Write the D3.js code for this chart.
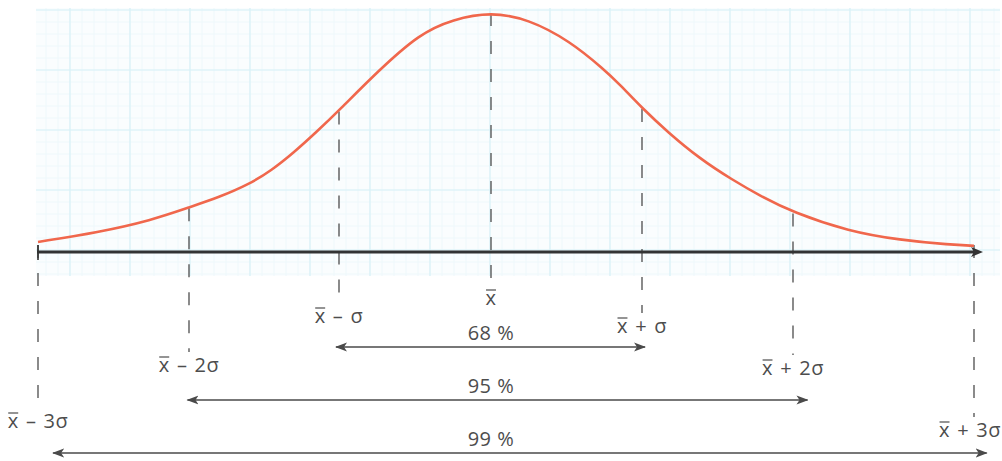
<!DOCTYPE html>
<html>
<head>
<meta charset="utf-8">
<script src="https://cdn.jsdelivr.net/npm/d3@7"></script>
<style>
  html, body { margin: 0; padding: 0; background: #fff; }
  svg text { font-family: "Open Sans", "Noto Sans", sans-serif; fill: #4d4d4d; }
</style>
</head>
<body>
<svg id="chart" width="1002" height="461"></svg>
<script>
// sigma steps marked on the axis
const sigmaSteps = [-3, -2, -1, 0, 1, 2, 3];

// curve: position in sigma units, height in % of the peak
const curveT = [-3, -2.6, -2.25, -2, -1.8, -1.6, -1.45, -1.3, -1.15, -1, -0.75, -0.47, -0.25, 0,
  0.25, 0.52, 0.75, 0.85, 1, 1.17, 1.38, 1.6, 1.78, 2, 2.31, 2.59, 2.87, 3];
const curveH = [4.2, 8.2, 13.2, 18.6, 22.8, 28.2, 34, 41.5, 50, 59, 75, 91, 97, 100,
  97, 88, 76, 70, 60, 50, 39, 30, 23.5, 16.5, 8.6, 5, 3, 2.6];

// labels under the axis
const markerLabels = ["3σ", "2σ", "σ", "", "σ", "2σ", "3σ"];

// coverage bands
const bandLabels = ["68 %", "95 %", "99 %"];
const bandFrom = [-1.02, -2.01, -2.9];
const bandTo = [1.02, 2.08, 3.07];

const width = 1002;
const height = 461;
const svg = d3.select("#chart");

const x = d3.scaleLinear()
  .domain(sigmaSteps)
  .range([38, 189, 339, 491, 642, 793, 974]);

const y = d3.scaleLinear()
  .domain([0, 100])
  .range([252, 12]);

// graph paper background
const grid = { x0: 36, x1: 1000, y0: 8, y1: 276 };
svg.append("rect")
  .attr("x", grid.x0).attr("y", grid.y0)
  .attr("width", grid.x1 - grid.x0).attr("height", grid.y1 - grid.y0)
  .attr("fill", "#fafdfe");

const minorX = d3.range(22, grid.x1, 12).filter((v) => v > grid.x0);
const minorY = d3.range(10, grid.y1, 12);
svg.append("g")
  .selectAll("line")
  .data(minorX)
  .join("line")
  .attr("x1", (d) => d).attr("x2", (d) => d)
  .attr("y1", grid.y0).attr("y2", grid.y1)
  .attr("stroke", "#eef8fb").attr("stroke-width", 1);
svg.append("g")
  .selectAll("line")
  .data(minorY)
  .join("line")
  .attr("x1", grid.x0).attr("x2", grid.x1)
  .attr("y1", (d) => d).attr("y2", (d) => d)
  .attr("stroke", "#eef8fb").attr("stroke-width", 1);

const majorX = d3.range(70, grid.x1, 60);
const majorY = d3.range(10, grid.y1, 60);
svg.append("g")
  .selectAll("line")
  .data(majorX)
  .join("line")
  .attr("x1", (d) => d).attr("x2", (d) => d)
  .attr("y1", grid.y0).attr("y2", grid.y1)
  .attr("stroke", "#d8f1f7").attr("stroke-width", 1.2);
svg.append("g")
  .selectAll("line")
  .data(majorY)
  .join("line")
  .attr("x1", grid.x0).attr("x2", grid.x1)
  .attr("y1", (d) => d).attr("y2", (d) => d)
  .attr("stroke", "#d8f1f7").attr("stroke-width", 1.2);

// arrow heads
const defs = svg.append("defs");
defs.append("marker")
  .attr("id", "head")
  .attr("viewBox", "0 0 12 10")
  .attr("refX", 11).attr("refY", 5)
  .attr("markerWidth", 12).attr("markerHeight", 10)
  .attr("markerUnits", "userSpaceOnUse")
  .attr("orient", "auto-start-reverse")
  .append("path")
  .attr("d", "M0,0.5 L12,5 L0,9.5 L3,5 Z")
  .attr("fill", "#4a4a4a");
defs.append("marker")
  .attr("id", "axisHead")
  .attr("viewBox", "0 0 12 10")
  .attr("refX", 4).attr("refY", 5)
  .attr("markerWidth", 12).attr("markerHeight", 10)
  .attr("markerUnits", "userSpaceOnUse")
  .attr("orient", "auto")
  .append("path")
  .attr("d", "M0,0 L12,5 L0,10 L3,5 Z")
  .attr("fill", "#333");

// label rows: baseline for each sigma step
const labelBase = [428, 372, 323, 305, 333, 375, 437];

// dashed guide lines
const curveAt = (t) => curveH[curveT.indexOf(t)];
svg.append("g")
  .selectAll("line")
  .data(sigmaSteps)
  .join("line")
  .attr("x1", (d) => x(d)).attr("x2", (d) => x(d))
  .attr("y1", (d) => (Math.abs(d) === 3 ? y(0) - 7 : y(curveAt(d)) + 1))
  .attr("y2", (d, i) => labelBase[i] - 20)
  .attr("stroke", "#4d4d4d")
  .attr("stroke-width", 1.3)
  .attr("stroke-dasharray", "13,15");

// x axis
svg.append("line")
  .attr("x1", 37).attr("x2", x(3) + 1)
  .attr("y1", y(0)).attr("y2", y(0))
  .attr("stroke", "#333")
  .attr("stroke-width", 2.8)
  .attr("marker-end", "url(#axisHead)");
svg.append("line")
  .attr("x1", x(-3)).attr("x2", x(-3))
  .attr("y1", y(0) - 7).attr("y2", y(0) + 8)
  .attr("stroke", "#333").attr("stroke-width", 1.6);

// the bell curve
const line = d3.line()
  .curve(d3.curveBasis)
  .x((d) => x(d[0]))
  .y((d) => y(d[1]));
svg.append("path")
  .datum(d3.zip(curveT, curveH))
  .attr("fill", "none")
  .attr("stroke", "#f0674c")
  .attr("stroke-width", 2.6)
  .attr("d", line);

// marker labels: x-bar, sign and sigma part
const labels = svg.append("g")
  .attr("font-size", 20)
  .attr("letter-spacing", 0.5)
  .attr("word-spacing", 1.5)
  .selectAll("text")
  .data(sigmaSteps)
  .join("text")
  .attr("x", (d) => x(d))
  .attr("y", (d, i) => labelBase[i])
  .attr("text-anchor", "middle")
  .attr("xml:space", "preserve")
  .text((d, i) => "x" + (d === 0 ? "" : (d < 0 ? " \u2013 " : " + ") + markerLabels[i]));

// keep the outer labels inside the picture
labels.each(function () {
  const b = this.getBBox();
  if (b.x + b.width > width - 1) {
    d3.select(this).attr("x", +d3.select(this).attr("x") - (b.x + b.width - width + 1));
  }
  if (b.x < 1) {
    d3.select(this).attr("x", +d3.select(this).attr("x") + (1 - b.x));
  }
});

// bar over each x
labels.each(function (d, i) {
  const box = this.getExtentOfChar(0);
  svg.append("line")
    .attr("x1", box.x + 0.5)
    .attr("x2", box.x + box.width - 0.5)
    .attr("y1", labelBase[i] - 15)
    .attr("y2", labelBase[i] - 15)
    .attr("stroke", "#4d4d4d")
    .attr("stroke-width", 1.2);
});

// coverage arrows
const bandY = [347, 400, 453];
svg.append("g")
  .selectAll("line")
  .data(bandLabels)
  .join("line")
  .attr("x1", (d, i) => x(bandFrom[i]))
  .attr("x2", (d, i) => x(bandTo[i]))
  .attr("y1", (d, i) => bandY[i])
  .attr("y2", (d, i) => bandY[i])
  .attr("stroke", "#4a4a4a")
  .attr("stroke-width", 1.5)
  .attr("marker-start", "url(#head)")
  .attr("marker-end", "url(#head)");

svg.append("g")
  .attr("font-size", 20)
  .attr("letter-spacing", 0.5)
  .selectAll("text")
  .data(bandLabels)
  .join("text")
  .attr("x", x(0))
  .attr("y", (d, i) => bandY[i] - 7)
  .attr("text-anchor", "middle")
  .text((d) => d);
</script>
</body>
</html>
